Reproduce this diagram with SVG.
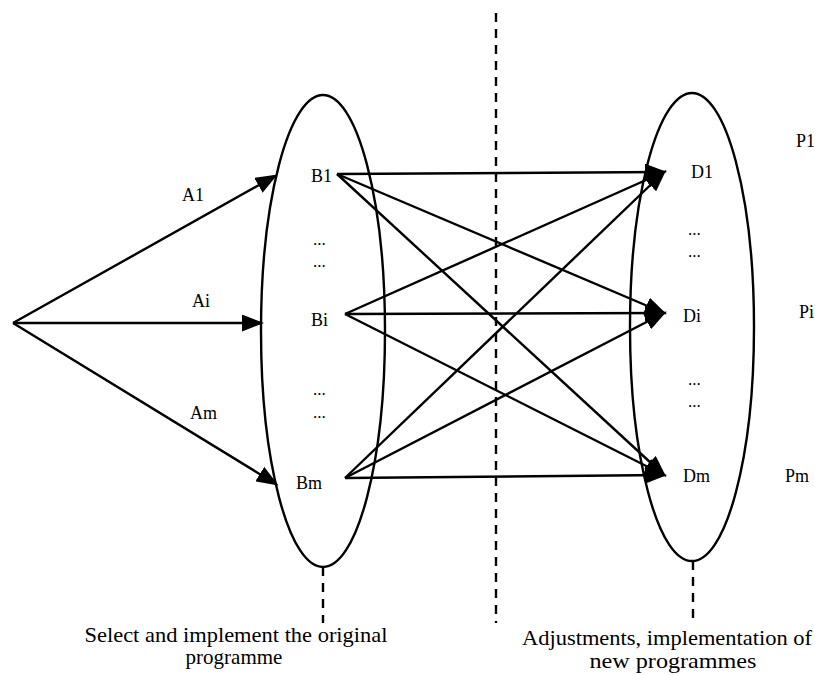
<svg xmlns="http://www.w3.org/2000/svg" width="815" height="675" viewBox="0 0 815 675">
  <style>
    .lbl { font-family: "Liberation Serif", "Times New Roman", serif; font-size: 18px; fill: #000; }
    .cap { font-family: "Liberation Serif", "Times New Roman", serif; font-size: 21px; fill: #000; text-anchor: middle; }
    .dots { font-family: "Liberation Serif", "Times New Roman", serif; font-size: 17px; fill: #000; }
    .set { fill: none; stroke: #000; stroke-width: 2.4; }
    .edge { fill: none; stroke: #000; stroke-width: 2.4; marker-end: url(#head); }
    .dash { fill: none; stroke: #000; stroke-width: 2.4; stroke-dasharray: 9 7; }
  </style>
  <defs>
    <marker id="head" viewBox="0 0 22 17" refX="19" refY="8.5" markerWidth="22" markerHeight="17" markerUnits="userSpaceOnUse" orient="auto">
      <path d="M0,0 L22,8.5 L0,17 z" fill="#000"/>
    </marker>
  </defs>
  <rect width="815" height="675" fill="#fff"/>

  <!-- divider between the two phases -->
  <line class="dash" x1="496" y1="13" x2="496" y2="623"/>

  <!-- set of original programmes -->
  <g id="set-b">
    <ellipse class="set" cx="323" cy="331" rx="62" ry="236"/>
    <line class="dash" x1="323" y1="567" x2="323" y2="623"/>
    <text class="lbl" x="311" y="182">B1</text>
    <text class="dots" x="313" y="245">...</text>
    <text class="dots" x="313" y="267">...</text>
    <text class="lbl" x="311" y="326">Bi</text>
    <text class="dots" x="313" y="395">...</text>
    <text class="dots" x="313" y="418">...</text>
    <text class="lbl" x="296" y="489">Bm</text>
  </g>

  <!-- set of adjusted programmes -->
  <g id="set-d">
    <ellipse class="set" cx="692" cy="327" rx="62" ry="234"/>
    <line class="dash" x1="693" y1="561" x2="693" y2="623"/>
    <text class="lbl" x="691" y="178">D1</text>
    <text class="dots" x="688" y="235">...</text>
    <text class="dots" x="688" y="257">...</text>
    <text class="lbl" x="683" y="322">Di</text>
    <text class="dots" x="688" y="385">...</text>
    <text class="dots" x="688" y="407">...</text>
    <text class="lbl" x="683" y="482">Dm</text>
  </g>

  <!-- probabilities -->
  <g id="probs">
    <text class="lbl" x="796" y="147">P1</text>
    <text class="lbl" x="799" y="318">Pi</text>
    <text class="lbl" x="785" y="482">Pm</text>
  </g>

  <!-- choices from the origin -->
  <g id="edges">
    <line class="edge" x1="13" y1="323" x2="275" y2="176"/>
    <line class="edge" x1="13" y1="323" x2="261" y2="323"/>
    <line class="edge" x1="13" y1="323" x2="276" y2="484"/>

    <line class="edge" x1="337" y1="174" x2="664" y2="172"/>
    <line class="edge" x1="337" y1="174" x2="664" y2="313"/>
    <line class="edge" x1="337" y1="174" x2="664" y2="475"/>
    <line class="edge" x1="345" y1="314" x2="664" y2="172"/>
    <line class="edge" x1="345" y1="314" x2="664" y2="313"/>
    <line class="edge" x1="345" y1="314" x2="664" y2="475"/>
    <line class="edge" x1="345" y1="478" x2="664" y2="172"/>
    <line class="edge" x1="345" y1="478" x2="664" y2="313"/>
    <line class="edge" x1="345" y1="478" x2="664" y2="475"/>
  </g>

  <g id="edge-labels">
    <text class="lbl" x="182" y="201">A1</text>
    <text class="lbl" x="192" y="307">Ai</text>
    <text class="lbl" x="190" y="419">Am</text>
  </g>

  <!-- phase captions -->
  <g id="captions">
    <text class="cap" x="236" y="642" textLength="303" lengthAdjust="spacingAndGlyphs">Select and implement the original</text>
    <text class="cap" x="234" y="664">programme</text>
    <text class="cap" x="667" y="645" textLength="290" lengthAdjust="spacingAndGlyphs">Adjustments, implementation of</text>
    <text class="cap" x="673" y="668" textLength="167" lengthAdjust="spacingAndGlyphs">new programmes</text>
  </g>
</svg>
